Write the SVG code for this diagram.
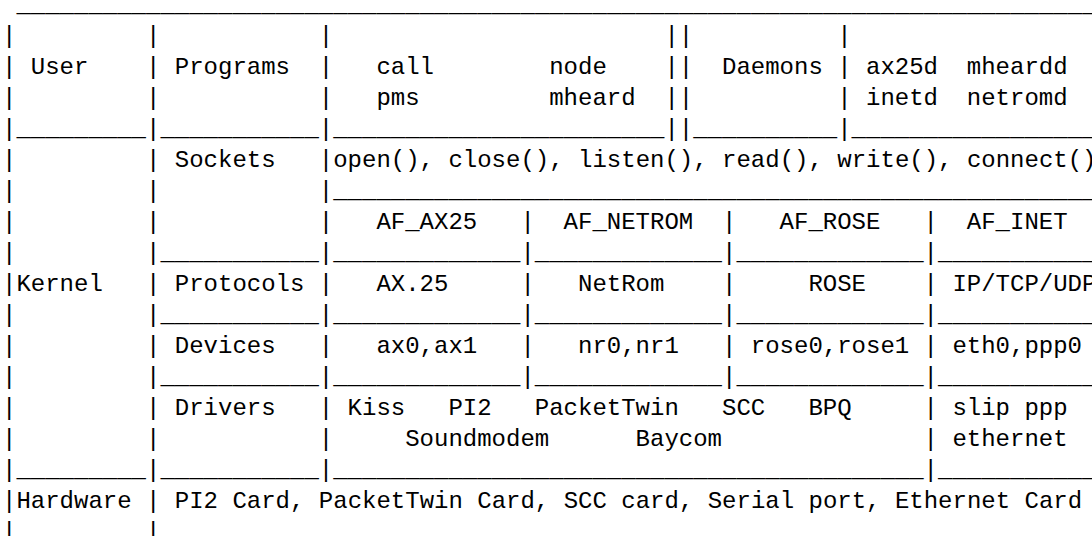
<svg xmlns="http://www.w3.org/2000/svg" width="1092" height="536" viewBox="0 0 1092 536">
<style>
  text { font-family: "Liberation Mono", "Courier New", monospace; font-size: 24px; fill: #000; white-space: pre; }
</style>
<rect width="1092" height="536" fill="#fff"/>
<!-- ASCII frame: pipes and underscore rules on a 14.4px character grid, 31px rows -->
<g id="connectors">
  <text y="12"><tspan x="16.4">___________________________________________________________________________</tspan></text>
  <text y="43"><tspan x="2">|</tspan><tspan x="146">|</tspan><tspan x="318.8">|</tspan><tspan x="664.4">||</tspan><tspan x="837.2">|</tspan></text>
  <text y="74"><tspan x="2">|</tspan><tspan x="146">|</tspan><tspan x="318.8">|</tspan><tspan x="664.4">||</tspan><tspan x="837.2">|</tspan></text>
  <text y="105"><tspan x="2">|</tspan><tspan x="146">|</tspan><tspan x="318.8">|</tspan><tspan x="664.4">||</tspan><tspan x="837.2">|</tspan></text>
  <text y="136"><tspan x="2">|_________</tspan><tspan x="146">|___________</tspan><tspan x="318.8">|_______________________</tspan><tspan x="664.4">|</tspan><tspan x="678.8">|__________</tspan><tspan x="837.2">|_________________</tspan></text>
  <text y="167"><tspan x="2">|</tspan><tspan x="146">|</tspan><tspan x="318.8">|</tspan></text>
  <text y="198"><tspan x="2">|</tspan><tspan x="146">|</tspan><tspan x="318.8">|_____________________________________________________</tspan></text>
  <text y="229"><tspan x="2">|</tspan><tspan x="146">|</tspan><tspan x="318.8">|</tspan><tspan x="520.4">|</tspan><tspan x="722">|</tspan><tspan x="923.6">|</tspan></text>
  <text y="260"><tspan x="2">|</tspan><tspan x="146">|___________</tspan><tspan x="318.8">|_____________</tspan><tspan x="520.4">|_____________</tspan><tspan x="722">|_____________</tspan><tspan x="923.6">|___________</tspan></text>
  <text y="291"><tspan x="2">|</tspan><tspan x="146">|</tspan><tspan x="318.8">|</tspan><tspan x="520.4">|</tspan><tspan x="722">|</tspan><tspan x="923.6">|</tspan></text>
  <text y="322"><tspan x="2">|</tspan><tspan x="146">|___________</tspan><tspan x="318.8">|_____________</tspan><tspan x="520.4">|_____________</tspan><tspan x="722">|_____________</tspan><tspan x="923.6">|___________</tspan></text>
  <text y="353"><tspan x="2">|</tspan><tspan x="146">|</tspan><tspan x="318.8">|</tspan><tspan x="520.4">|</tspan><tspan x="722">|</tspan><tspan x="923.6">|</tspan></text>
  <text y="384"><tspan x="2">|</tspan><tspan x="146">|___________</tspan><tspan x="318.8">|_____________</tspan><tspan x="520.4">|_____________</tspan><tspan x="722">|_____________</tspan><tspan x="923.6">|___________</tspan></text>
  <text y="415"><tspan x="2">|</tspan><tspan x="146">|</tspan><tspan x="318.8">|</tspan><tspan x="923.6">|</tspan></text>
  <text y="446"><tspan x="2">|</tspan><tspan x="146">|</tspan><tspan x="318.8">|</tspan><tspan x="923.6">|</tspan></text>
  <text y="477"><tspan x="2">|_________</tspan><tspan x="146">|___________</tspan><tspan x="318.8">|_________________________________________</tspan><tspan x="923.6">|___________</tspan></text>
  <text y="508"><tspan x="2">|</tspan><tspan x="146">|</tspan></text>
  <text y="539"><tspan x="2">|</tspan><tspan x="146">|</tspan></text>
</g>
<!-- layer labels -->
<g id="user"><text x="30.8" y="74">User</text></g>
<g id="kernel"><text x="16.4" y="291">Kernel</text></g>
<g id="hardware"><text x="16.4" y="508">Hardware</text><text x="174.8" y="508">PI2 Card, PacketTwin Card, SCC card, Serial port, Ethernet Card</text></g>
<!-- user space -->
<g id="programs">
  <text x="174.8" y="74">Programs</text>
  <text x="376.4" y="74">call</text><text x="549.2" y="74">node</text>
  <text x="376.4" y="105">pms</text><text x="549.2" y="105">mheard</text>
</g>
<g id="daemons">
  <text x="722" y="74">Daemons</text>
  <text x="866" y="74">ax25d</text><text x="966.8" y="74">mheardd</text>
  <text x="866" y="105">inetd</text><text x="966.8" y="105">netromd</text>
</g>
<!-- kernel -->
<g id="sockets">
  <text x="174.8" y="167">Sockets</text>
  <text x="333.2" y="167">open(), close(), listen(), read(), write(), connect()</text>
</g>
<g id="families">
  <text x="376.4" y="229">AF_AX25</text>
  <text x="563.6" y="229">AF_NETROM</text>
  <text x="779.6" y="229">AF_ROSE</text>
  <text x="966.8" y="229">AF_INET</text>
</g>
<g id="protocols">
  <text x="174.8" y="291">Protocols</text>
  <text x="376.4" y="291">AX.25</text>
  <text x="578" y="291">NetRom</text>
  <text x="808.4" y="291">ROSE</text>
  <text x="952.4" y="291">IP/TCP/UDP</text>
</g>
<g id="devices">
  <text x="174.8" y="353">Devices</text>
  <text x="376.4" y="353">ax0,ax1</text>
  <text x="578" y="353">nr0,nr1</text>
  <text x="750.8" y="353">rose0,rose1</text>
  <text x="952.4" y="353">eth0,ppp0</text>
</g>
<g id="drivers">
  <text x="174.8" y="415">Drivers</text>
  <text x="347.6" y="415">Kiss</text>
  <text x="448.4" y="415">PI2</text>
  <text x="534.8" y="415">PacketTwin</text>
  <text x="722" y="415">SCC</text>
  <text x="808.4" y="415">BPQ</text>
  <text x="405.2" y="446">Soundmodem</text>
  <text x="635.6" y="446">Baycom</text>
  <text x="952.4" y="415">slip ppp</text>
  <text x="952.4" y="446">ethernet</text>
</g>
</svg>
